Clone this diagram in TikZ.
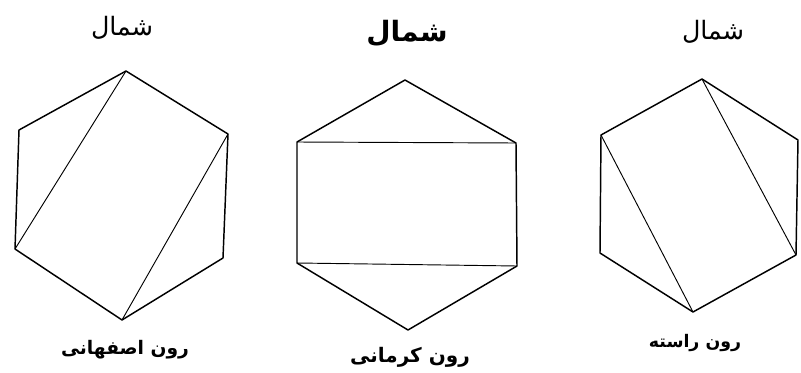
\documentclass[tikz,border=0pt]{standalone}
\usepackage{fontspec}
\newfontfamily\arabicfont[Script=Arabic]{DejaVu Sans}
\TeXXeTstate=1
\begin{document}
\begin{tikzpicture}[
  x=0.75pt, y=-0.75pt,
  edge/.style={line width=1.1pt, line join=round},
  diag/.style={line width=0.7pt},
  north/.style={font=\arabicfont\fontsize{19}{22}\selectfont},
  roon/.style={font=\arabicfont\bfseries\fontsize{14}{17}\selectfont}
]
\useasboundingbox (0,0) rectangle (801,372);
% isfahani
\coordinate (a1) at (126,71);
\coordinate (a2) at (228,134);
\coordinate (a3) at (223,258);
\coordinate (a4) at (122,320);
\coordinate (a5) at (15,249);
\coordinate (a6) at (19,130);
\draw[edge] (a1) -- (a2) -- (a3) -- (a4) -- (a5) -- (a6) -- cycle;
\draw[diag] (a1) -- (a5);
\draw[diag] (a2) -- (a4);
\node[north] (na) at (122,28) {\beginR شمال\endR};
\node[roon] (ra) at (125,350) {\beginR رون اصفهانی\endR};
% kermani
\coordinate (b1) at (405,80);
\coordinate (b2) at (516,143);
\coordinate (b3) at (517,266);
\coordinate (b4) at (408,330);
\coordinate (b5) at (297,263);
\coordinate (b6) at (297,142);
\draw[edge] (b1) -- (b2) -- (b3) -- (b4) -- (b5) -- (b6) -- cycle;
\draw[diag] (b6) -- (b2);
\draw[diag] (b5) -- (b3);
\node[north, font=\arabicfont\bfseries\fontsize{21}{24}\selectfont] (nb) at (407,33) {\beginR شمال\endR};
\node[roon, font=\arabicfont\bfseries\fontsize{15}{18}\selectfont] (rb) at (410,357) {\beginR رون کرمانی\endR};
% raste
\coordinate (c1) at (702,79);
\coordinate (c2) at (798,140);
\coordinate (c3) at (796,255);
\coordinate (c4) at (693,312);
\coordinate (c5) at (600,253);
\coordinate (c6) at (601,135);
\draw[edge] (c1) -- (c2) -- (c3) -- (c4) -- (c5) -- (c6) -- cycle;
\draw[diag] (c1) -- (c3);
\draw[diag] (c6) -- (c4);
\node[north] (nc) at (713,32) {\beginR شمال\endR};
\node[roon, font=\arabicfont\bfseries\fontsize{13}{16}\selectfont] (rc) at (695,343) {\beginR رون راسته\endR};
\end{tikzpicture}
\end{document}
